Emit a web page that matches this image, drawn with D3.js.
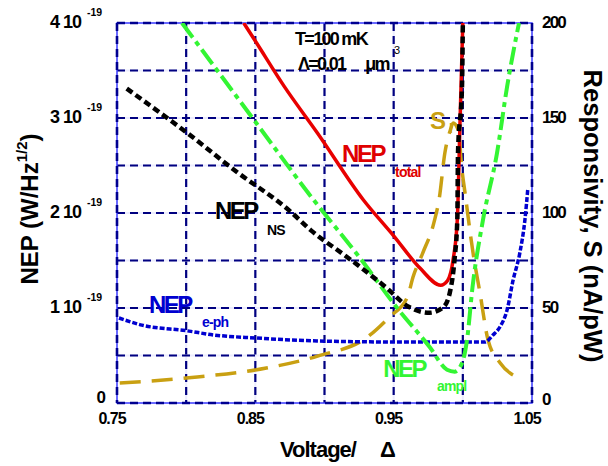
<!DOCTYPE html>
<html>
<head>
<meta charset="utf-8">
<script src="https://cdn.jsdelivr.net/npm/d3@7"></script>
<style>
  body { margin: 0; background: #fff; }
  text { font-family: "Liberation Sans", Arial, sans-serif; font-weight: bold; }
</style>
</head>
<body>
<div id="chart"></div>
<script>
const w = 608;
const h = 466;
const margin = { left: 117, top: 23, right: 76, bottom: 63 };
const iw = w - margin.left - margin.right;
const ih = h - margin.top - margin.bottom;

// axis ticks / grid
const xLabels = [0.75, 0.85, 0.95, 1.05];
const xGrid = [0.80, 0.85, 0.90, 0.95, 1.00];
const yGrid = [0.5, 1, 1.5, 2, 2.5, 3, 3.5];
const leftTicks = [0, 1, 2, 3, 4];
const rightTicks = [0, 50, 100, 150, 200];

// NEP curves (units of 1e-19 W/Hz^1/2), V in units of Delta
const nsV   = [0.757, 0.790, 0.801, 0.835, 0.875, 0.890, 0.916, 0.933, 0.945, 0.960, 0.976, 0.986, 0.991, 0.994, 0.996, 0.9965, 0.9994, 1.000];
const nsNEP = [3.31, 2.96, 2.84, 2.45, 2.02, 1.82, 1.54, 1.35, 1.21, 1.02, 0.95, 1.01, 1.19, 1.51, 1.93, 2.63, 3.33, 4.0];

const totV   = [0.8416, 0.850, 0.871, 0.895, 0.928, 0.950, 0.969, 0.984, 0.989, 0.993, 0.996, 0.998, 1.000];
const totNEP = [4.0, 3.81, 3.33, 2.84, 2.14, 1.76, 1.42, 1.24, 1.29, 1.51, 1.93, 2.98, 4.0];

const amplV   = [0.797, 0.849, 0.892, 0.926, 0.952, 0.976, 0.9886, 0.994, 0.9994, 1.003, 1.007, 1.0146, 1.0247, 1.032, 1.0406];
const amplNEP = [4.0, 2.98, 2.14, 1.52, 1.01, 0.59, 0.35, 0.33, 0.42, 0.66, 1.22, 1.93, 2.63, 3.33, 4.0];

const ephV   = [0.7514, 0.768, 0.8006, 0.820, 0.851, 0.8946, 0.9546, 1.016, 1.0218, 1.0268, 1.032, 1.0363, 1.0412, 1.0449, 1.047];
const ephNEP = [0.895, 0.82, 0.76, 0.716, 0.684, 0.653, 0.642, 0.642, 0.716, 0.80, 0.98, 1.29, 1.58, 1.93, 2.26];

// responsivity S (nA/pW), right axis
const sV   = [0.752, 0.808, 0.858, 0.895, 0.931, 0.947, 0.960, 0.964, 0.971, 0.979, 0.983, 0.987, 0.991, 0.993, 0.9966, 0.9994, 1.0016, 1.0074, 1.0124, 1.0182, 1.027, 1.034, 1.0412];
const sVal = [10.5, 13.7, 18.4, 24.7, 34.7, 45.3, 55.8, 66.3, 78.9, 94.7, 107.9, 131.6, 143.7, 147.4, 143.7, 122.6, 110.5, 78.9, 57.9, 33.2, 21.1, 15.8, 13.2];

const svg = d3.select("#chart").append("svg")
    .attr("width", w)
    .attr("height", h);

const x = d3.scaleLinear().domain([0.75, 1.05]).range([0, iw]);
const yL = d3.scaleLinear().domain([0, 4]).range([ih, 0]);
const yR = d3.scaleLinear().domain([0, 200]).range([ih, 0]);

const g = svg.append("g").attr("transform", `translate(${margin.left},${margin.top})`);

svg.append("defs").append("clipPath").attr("id", "plotclip")
    .append("rect").attr("width", iw).attr("height", ih);

// grid: light line under a navy dashed line
function gridLine(sel) {
    sel.append("line").attr("stroke", "#ececff").attr("stroke-width", 2);
    sel.append("line").attr("stroke", "#000080").attr("stroke-width", 2.2).attr("stroke-dasharray", "8,5");
}
xGrid.forEach(v => {
    const gg = g.append("g");
    gridLine(gg);
    gg.selectAll("line").attr("x1", x(v)).attr("x2", x(v)).attr("y1", 0).attr("y2", ih);
});
yGrid.forEach(v => {
    const gg = g.append("g");
    gridLine(gg);
    gg.selectAll("line").attr("x1", 0).attr("x2", iw).attr("y1", yL(v)).attr("y2", yL(v));
});

// frame
g.append("rect").attr("width", iw).attr("height", ih)
    .attr("fill", "none").attr("stroke", "#3a3aff").attr("stroke-width", 1.5);
[[0, 0, 0, ih], [iw, 0, iw, ih], [0, ih, iw, ih], [0, 0, iw, 0]].forEach(d => {
    g.append("line").attr("x1", d[0]).attr("y1", d[1]).attr("x2", d[2]).attr("y2", d[3])
        .attr("stroke", "#000090").attr("stroke-width", 2.6).attr("stroke-dasharray", "8,5");
});

// curves
const lineL = d3.line().x(d => x(d[0])).y(d => yL(d[1])).curve(d3.curveMonotoneX);
const lineR = d3.line().x(d => x(d[0])).y(d => yR(d[1])).curve(d3.curveMonotoneX);
const curves = g.append("g").attr("clip-path", "url(#plotclip)");

const series = [
    { v: sV, y: sVal, line: lineR, color: "#c9a012", width: 3.5, dash: "21,11" },
    { v: ephV, y: ephNEP, line: lineL, color: "#0000d0", width: 3.5, dash: "5,2" },
    { v: amplV, y: amplNEP, line: lineL, color: "#33f533", width: 4, dash: "18,5,5,5" },
    { v: totV, y: totNEP, line: lineL, color: "#e80000", width: 3.5, dash: null },
    { v: nsV, y: nsNEP, line: lineL, color: "#000000", width: 4.5, dash: "7,4" }
];
series.forEach(s => {
    curves.append("path")
        .datum(s.v.map((v, i) => [v, s.y[i]]))
        .attr("d", s.line)
        .attr("fill", "none")
        .attr("stroke", s.color)
        .attr("stroke-width", s.width)
        .attr("stroke-dasharray", s.dash);
});

// left tick labels  "n 10^-19"
leftTicks.forEach(t => {
    const yy = yL(t) + 5;
    if (t === 0) {
        g.append("text").attr("x", -12).attr("y", yy - 5).attr("text-anchor", "end")
            .attr("font-size", 17).attr("letter-spacing", -1).text("0");
    } else {
        g.append("text").attr("x", -36).attr("y", yy).attr("text-anchor", "end")
            .attr("font-size", 18).attr("letter-spacing", -1).text(t + " 10");
        g.append("text").attr("x", -30).attr("y", yy - 12)
            .attr("font-size", 10.5).attr("font-weight", "normal").text("-19");
    }
});

// right tick labels
rightTicks.forEach(t => {
    g.append("text").attr("x", iw + 10).attr("y", yR(t) + (t === 0 ? 2 : 5))
        .attr("font-size", 17).attr("letter-spacing", -1.8).text(t);
});

// x tick labels
xLabels.forEach(t => {
    g.append("text").attr("x", x(t) - 5).attr("y", ih + 21).attr("text-anchor", "middle")
        .attr("font-size", 16).attr("letter-spacing", -1).text(d3.format(".2f")(t));
});

// axis titles
const lt = svg.append("text")
    .attr("transform", `translate(38,209) rotate(-90)`)
    .attr("text-anchor", "middle").attr("font-size", 24);
lt.append("tspan").text("NEP (W/Hz");
lt.append("tspan").attr("dy", -11).attr("font-size", 15).text("1/2");
lt.append("tspan").attr("dy", 11).text(")");

svg.append("text")
    .attr("transform", `translate(584,216) rotate(90)`)
    .attr("text-anchor", "middle").attr("font-size", 25.5)
    .text("Responsivity, S (nA/pW)");

const xt = svg.append("text").attr("x", 280).attr("y", 457).attr("font-size", 22).attr("letter-spacing", -1);
xt.append("tspan").text("Voltage/");
xt.append("tspan").attr("dx", 24).text("Δ");

// annotations: big main symbol and small subscript, each placed in data units
function label(v, val, main, subV, subVal, sub, color) {
    g.append("text").attr("x", x(v)).attr("y", yL(val)).attr("fill", color)
        .attr("font-size", 24).attr("letter-spacing", -2.5).text(main);
    g.append("text").attr("x", x(subV)).attr("y", yL(subVal)).attr("fill", color)
        .attr("font-size", 14).attr("font-weight", "normal").attr("letter-spacing", -0.8).text(sub);
}
label(0.9127, 2.537, "NEP", 0.951, 2.379, "total", "#e00000");
label(0.8208, 1.937, "NEP", 0.8584, 1.768, "NS", "#000000");
label(0.7731, 0.947, "NEP", 0.8114, 0.800, "e-ph", "#0000d0");
label(0.9425, 0.274, "NEP", 0.9813, 0.126, "ampl", "#33f533");
label(0.9763, 2.884, "S", 0.990, 2.842, "I", "#c9a012");

g.append("text").attr("x", x(0.8787)).attr("y", yL(3.768))
    .attr("font-size", 18).attr("letter-spacing", -1.7).text("T=100 mK");
const lam = g.append("text").attr("x", x(0.8808)).attr("y", yL(3.505))
    .attr("font-size", 18).attr("letter-spacing", -1.7);
lam.append("tspan").text("Λ=0.01");
lam.append("tspan").attr("dx", 20).text("μm");
lam.append("tspan").attr("dy", -16).attr("dx", 5).attr("font-size", 11).attr("font-weight", "normal").text("3");
</script>
</body>
</html>
